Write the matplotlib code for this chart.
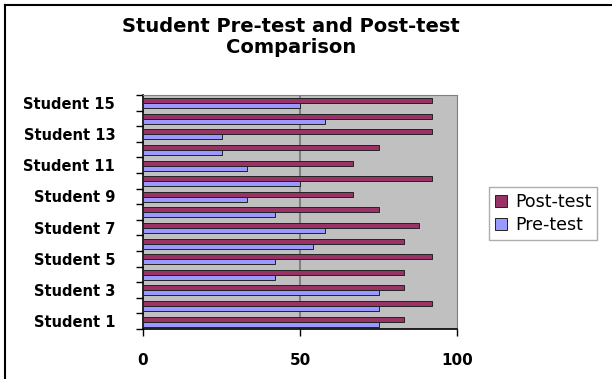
import numpy as np
import matplotlib
matplotlib.use("Agg")
import matplotlib.pyplot as plt
from matplotlib.lines import Line2D

plt.rcParams['font.family'] = ['DejaVu Sans']

students = ["Student {}".format(i) for i in range(1, 16)]
pre_test = [75, 75, 75, 42, 42, 54, 58, 42, 33, 50, 33, 25, 25, 58, 50]
post_test = [83, 92, 83, 83, 92, 83, 88, 75, 67, 92, 67, 75, 92, 92, 92]

post_color = "#993366"
pre_color = "#9999FF"

fig = plt.figure(figsize=(6.12, 3.79), dpi=100)
ax = fig.add_axes([143 / 612, 50 / 379, 314 / 612, 234 / 379])
ax.set_facecolor("#C0C0C0")

y = np.arange(len(students))
h = 0.32
ax.barh(y - h / 2 - 0.03, pre_test, height=h, color=pre_color,
        edgecolor="#222222", linewidth=0.7, label="Pre-test", zorder=3)
ax.barh(y + h / 2 - 0.03, post_test, height=h, color=post_color,
        edgecolor="#222222", linewidth=0.7, label="Post-test", zorder=3)

ax.set_xlim(0, 100)
ax.set_ylim(-0.5, len(students) - 0.5)
ax.set_xticks([0, 50, 100])
ax.axvline(50, color="#808080", linewidth=1.5, zorder=1)

# category labels on every other student, tick marks between categories
ax.set_yticks(y[::2])
ax.set_yticklabels(students[::2], fontweight="bold")
ax.set_yticks(np.arange(-0.5, len(students), 1.0), minor=True)
ax.tick_params(axis="y", which="major", length=0, labelsize=10.5, pad=20)
ax.tick_params(axis="y", which="minor", length=5, width=1, color="black")
ax.tick_params(axis="x", length=5, width=1, labelsize=11, pad=12)
for t in ax.get_xticklabels():
    t.set_fontweight("bold")

for s in ["top", "right"]:
    ax.spines[s].set_color("#808080")
ax.spines["left"].set_color("black")
ax.spines["bottom"].set_color("black")
ax.spines["left"].set_linewidth(1.2)
ax.spines["bottom"].set_linewidth(1.2)

fig.text(291 / 612, 1 - 37 / 379, "Student Pre-test and Post-test\nComparison",
         ha="center", va="center", fontsize=14, fontweight="bold",
         linespacing=1.15)

handles, labels = ax.get_legend_handles_labels()
leg = fig.legend(handles[::-1], labels[::-1], loc="upper left",
                 bbox_to_anchor=(489 / 612, 1 - 187 / 379), fontsize=12.5,
                 frameon=True, fancybox=False, edgecolor="#999999",
                 handlelength=0.7, handleheight=0.7, handletextpad=0.45,
                 borderpad=0.35, labelspacing=0.3, borderaxespad=0)
leg.get_frame().set_linewidth(1.0)

# outer chart frame (top and left edges visible)
fig.add_artist(Line2D([4.5 / 612, 1], [1 - 4.5 / 379, 1 - 4.5 / 379],
                      color="black", linewidth=1.5, transform=fig.transFigure))
fig.add_artist(Line2D([4.5 / 612, 4.5 / 612], [0, 1 - 4.5 / 379],
                      color="black", linewidth=1.5, transform=fig.transFigure))

fig.savefig("out.png", dpi=100)
